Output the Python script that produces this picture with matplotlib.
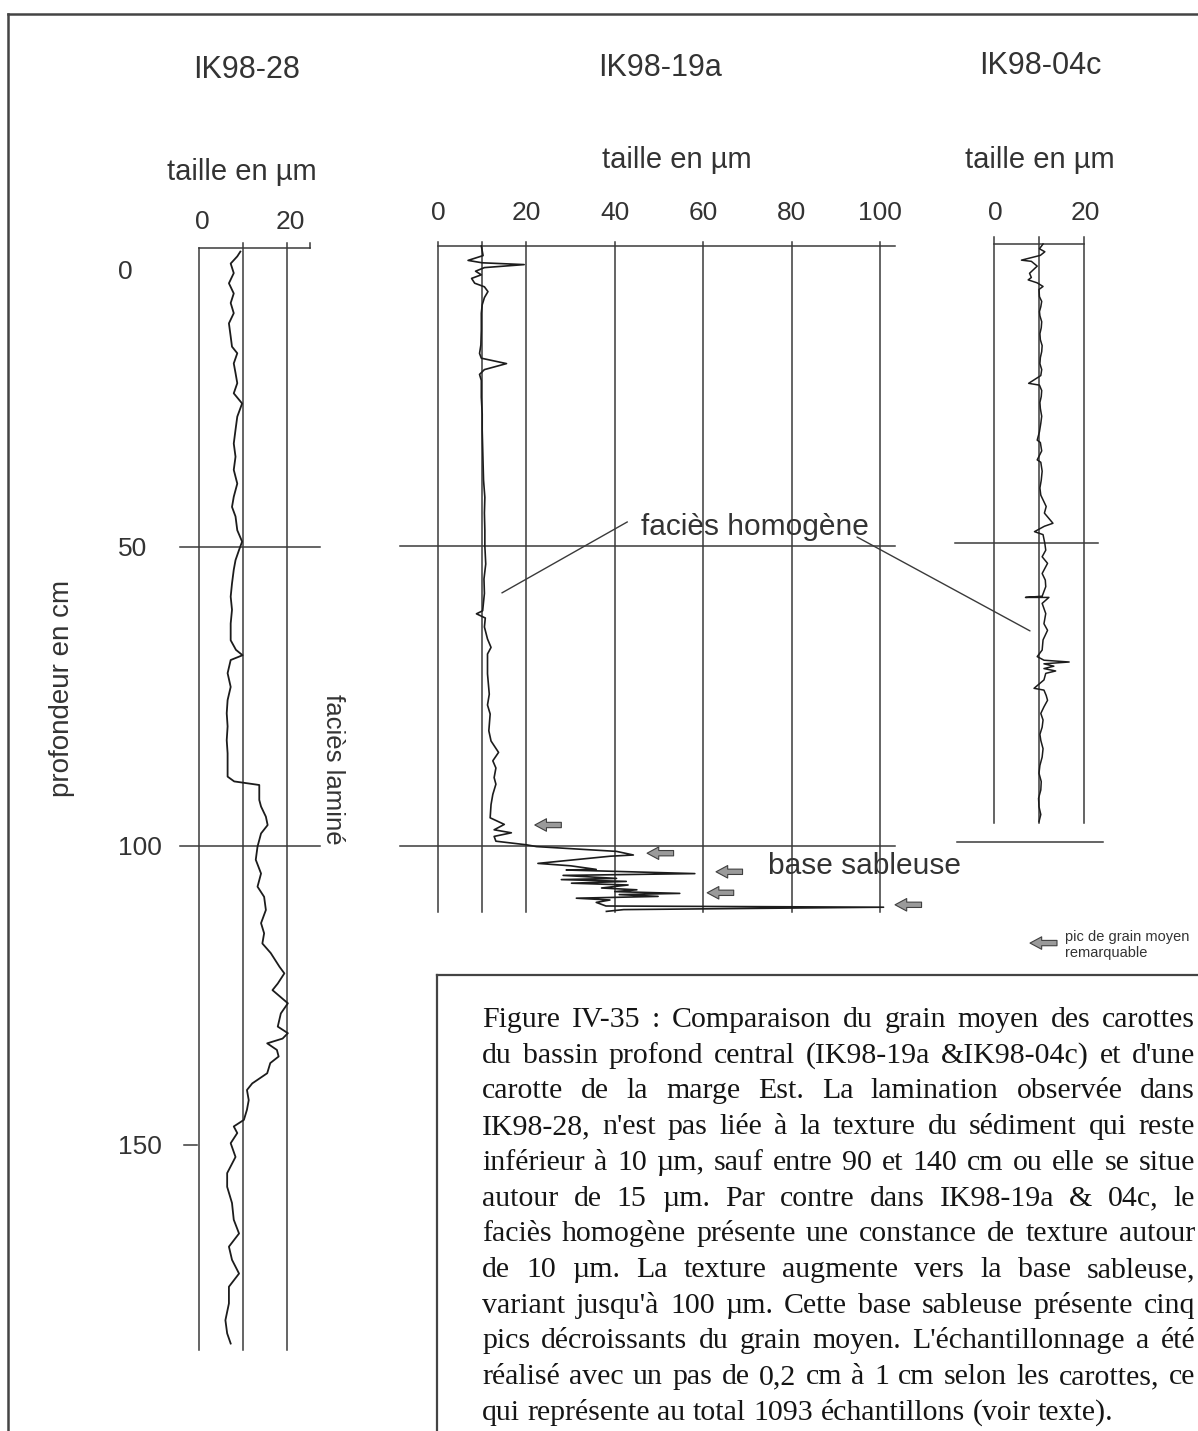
import matplotlib
matplotlib.use("Agg")
import matplotlib.pyplot as plt
from matplotlib.lines import Line2D
from matplotlib.patches import ConnectionPatch

W, H = 1198, 1431

# --- data: depth (cm) / mean grain size (µm) ---
ik28_depth = [0.6, 1.4, 2.6, 4.2, 5.9, 7.6, 9.2, 10.9, 12.6, 14.8, 16.5, 17.6, 19.3, 20.9,
              22.6, 24.3, 26.0, 28.2, 30.4, 32.7, 34.9, 37.1, 39.4, 41.6, 43.3, 44.9, 47.2,
              49.1, 50.5, 52.2, 53.8, 56.1, 58.3, 60.5, 62.8, 65.6, 67.2, 68.1, 68.9, 71.1,
              73.4, 75.6, 77.8, 80.0, 82.3, 84.5, 86.7, 88.4, 89.2, 89.8, 92.3, 93.4, 95.1,
              96.5, 97.9, 100.1, 102.3, 104.6, 106.8, 108.5, 110.7, 112.9, 114.6, 116.3,
              117.9, 120.2, 121.3, 123.0, 124.1, 126.3, 128.0, 130.2, 131.3, 132.2, 133.0,
              134.1, 135.2, 136.3, 138.0, 139.7, 140.8, 142.5, 144.1, 145.8, 146.9, 148.0,
              149.7, 152.0, 154.7, 157.0, 159.7, 162.5, 164.8, 167.0, 169.2, 171.5, 173.7,
              176.5, 179.3, 181.5, 183.2]
ik28_size = [9.4, 8.7, 7.2, 7.9, 6.8, 7.9, 7.2, 7.9, 6.8, 7.2, 7.5, 8.7, 7.9, 8.3,
             8.7, 7.9, 9.8, 8.7, 8.3, 7.9, 8.3, 7.9, 8.7, 7.9, 7.5, 8.3, 8.7,
             9.8, 9.1, 8.3, 7.9, 7.5, 7.2, 7.5, 7.2, 7.2, 8.4, 9.9, 7.2, 6.5,
             7.2, 6.5, 6.3, 6.5, 6.3, 6.5, 6.5, 6.5, 8.0, 13.7, 13.7, 14.1, 15.2,
             15.6, 14.1, 13.3, 12.9, 14.1, 13.3, 14.8, 15.2, 14.1, 14.8, 14.4,
             16.3, 18.3, 19.4, 17.9, 16.7, 20.2, 18.6, 17.9, 20.2, 19.0, 15.5,
             17.7, 18.1, 16.2, 15.5, 12.1, 10.9, 11.3, 10.9, 10.2, 7.9, 8.7,
             7.2, 8.3, 6.4, 6.4, 7.5, 7.9, 9.1, 6.8, 7.5, 9.1, 6.8,
             6.8, 6.0, 6.4, 7.2]

ik19_depth = [0.0, 0.8, 1.6, 2.4, 2.8, 3.1, 3.6, 4.2, 4.8, 5.4, 6.2, 6.8, 7.6, 8.6, 9.8,
              11.2, 14.0, 16.5, 17.9, 18.7, 19.6, 20.6, 21.4, 22.4, 25.2, 28.0, 30.7, 33.5,
              36.3, 39.0, 41.9, 44.5, 47.4, 50.0, 53.0, 55.5, 57.9, 60.8, 61.3, 62.0, 63.5,
              65.5, 66.9, 68.0, 71.3, 74.7, 76.5, 78.0, 80.8, 82.5, 84.4, 85.8, 87.0, 88.6,
              89.7, 91.4, 93.1, 95.3, 96.4, 97.3, 97.8, 98.4, 99.2, 99.8, 100.1, 100.9,
              101.5, 101.7, 102.9, 103.3, 103.9, 104.0, 104.6, 104.9, 105.4, 105.6, 105.9,
              106.2, 106.5, 107.0, 107.3, 107.6, 107.9, 108.1, 108.4, 108.7, 109.0, 109.4,
              110.0, 110.2, 110.6, 110.9]
ik19_size = [9.8, 10.0, 10.2, 6.8, 10.0, 19.5, 10.5, 8.5, 9.8, 7.6, 8.3, 10.5, 11.3, 10.5, 10.0,
             9.8, 9.8, 9.7, 9.4, 9.8, 15.5, 10.5, 9.4, 9.8, 9.8, 10.0, 10.0, 10.1,
             10.2, 10.3, 10.6, 10.5, 10.6, 10.6, 10.8, 10.4, 10.5, 10.1, 8.7, 10.7, 10.5,
             11.2, 12.0, 11.2, 11.2, 11.6, 11.2, 11.8, 11.5, 12.0, 13.7, 12.4, 13.1, 12.7,
             13.1, 12.4, 12.0, 11.8, 15.0, 12.7, 16.6, 12.7, 13.1, 20.0, 22.3, 40.4,
             44.2, 39.0, 22.6, 30.0, 35.8, 29.0, 58.1, 28.3, 40.4, 27.9, 42.6,
             30.2, 43.0, 37.0, 45.0, 40.0, 54.7, 41.0, 49.8, 31.3, 38.9, 35.8,
             38.0, 100.8, 42.0, 38.1]

ik04_depth = [0.0, 0.8, 1.3, 1.9, 2.7, 2.9, 3.7, 4.9, 5.6, 6.0, 6.5, 7.1, 7.6, 8.8, 9.6,
              10.5, 11.3, 12.0, 13.0, 14.0, 15.0, 16.0, 17.0, 18.0, 19.0, 20.0, 21.0, 22.0,
              23.3, 23.6, 24.5, 25.5, 26.5, 27.5, 28.8, 30.0, 31.4, 32.8, 33.2, 34.6, 36.1,
              36.5, 38.0, 39.5, 40.8, 42.0, 43.9, 45.0, 46.7, 47.2, 48.1, 48.6, 50.1, 51.2,
              52.3, 53.4, 55.1, 56.2, 57.3, 58.9, 59.1, 59.1, 60.1, 61.8, 63.5, 64.6, 66.2,
              67.9, 69.0, 69.6, 69.9, 70.2, 70.6, 71.0, 71.4, 71.8, 72.9, 74.3, 74.6, 75.5,
              76.3, 77.4, 78.5, 79.6, 80.8, 82.0, 83.0, 84.4, 85.8, 87.2, 88.5, 89.9, 91.3,
              92.7, 94.1, 95.4, 96.6]
ik04_size = [10.9, 10.1, 11.3, 10.3, 6.1, 8.3, 9.6, 7.9, 8.3, 7.6, 9.6, 10.9, 10.0, 10.1, 10.6,
             10.4, 10.1, 10.2, 10.6, 10.5, 10.2, 10.3, 10.7, 10.6, 10.3, 10.2, 10.6, 10.4,
             7.7, 10.1, 10.6, 10.5, 10.2, 10.3, 10.6, 10.4, 10.1, 9.6, 10.3, 10.6, 9.6,
             10.4, 10.7, 10.5, 10.2, 10.4, 11.6, 11.2, 13.1, 11.2, 9.0, 10.9, 11.3, 11.5,
             10.7, 11.9, 10.7, 11.4, 11.5, 10.7, 7.0, 12.2, 10.7, 11.5, 11.1, 11.9, 10.9,
             10.7, 9.6, 11.1, 16.7, 11.1, 13.3, 11.1, 13.7, 11.5, 11.1, 8.9, 11.1, 11.6,
             11.9, 11.1, 10.4, 10.9, 10.7, 10.2, 10.4, 10.9, 10.7, 10.2, 10.0, 10.5, 10.4,
             9.9, 10.0, 10.4, 10.0]

ik28_grid = [0, 10, 20]
ik19_grid = [0, 10, 20, 40, 60, 80, 100]
ik04_grid = [0, 10, 20]
ik28_ticks = [0, 20]
ik19_ticks = [0, 20, 40, 60, 80, 100]
ik04_ticks = [0, 20]
depth_ticks = [0, 50, 100, 150]

# remarkable mean-grain peaks in IK98-19a (depth cm, arrow tip µm)
peak_depth = [96.5, 101.2, 104.3, 107.8, 109.8]
peak_tip = [21.9, 47.3, 62.9, 60.9, 103.4]

caption = [
    "Figure IV-35 : Comparaison du grain moyen des carottes",
    "du bassin profond central (IK98-19a &IK98-04c) et d'une",
    "carotte de la marge Est. La lamination observée dans",
    "IK98-28, n'est pas liée à la texture du sédiment qui reste",
    "inférieur à 10 µm, sauf entre 90 et 140 cm ou elle se situe",
    "autour de 15 µm. Par contre dans IK98-19a & 04c, le",
    "faciès homogène présente une constance de texture autour",
    "de 10 µm. La texture augmente vers la base sableuse,",
    "variant  jusqu'à 100 µm. Cette base sableuse présente cinq",
    "pics décroissants du grain moyen. L'échantillonnage a été",
    "réalisé avec un pas de 0,2 cm  à 1 cm selon les carottes, ce",
    "qui représente au total 1093 échantillons (voir texte).",
]

SANS = ["Liberation Sans", "DejaVu Sans"]
SERIF = ["Liberation Serif", "DejaVu Serif"]
LC = "#3a3a3a"
CC = "#1c1c1c"
TC = "#333333"

fig = plt.figure(figsize=(W / 100, H / 100), dpi=100)
fig.patch.set_facecolor("white")


def px(x, y):
    return x / W, 1 - y / H


def panel_axes(x0, ppu, d0, ppc):
    # full-figure axes whose data units are µm (x) and cm (y, downward)
    ax = fig.add_axes([0, 0, 1, 1])
    ax.set_xlim(-x0 / ppu, (W - x0) / ppu)
    ax.set_ylim((H - d0) / ppc, -d0 / ppc)
    ax.axis("off")
    ax.patch.set_alpha(0)
    return ax


def fline(x0, y0, x1, y1, lw=1.6, color="#444444"):
    a, b = px(x0, y0)
    c, d = px(x1, y1)
    fig.add_artist(Line2D([a, c], [b, d], color=color, lw=lw))


def peak_arrow(ax, tip, d):
    ax.annotate("", xy=(tip, d), xytext=(tip + 6, d),
                arrowprops=dict(arrowstyle="simple,head_length=0.7,head_width=0.75,tail_width=0.32",
                                fc="#9a9a9a", ec="#404040", lw=0.8, mutation_scale=12,
                                shrinkA=0, shrinkB=0))


# outer frame and caption box
fline(8, 14, W, 14, lw=1.8)
fline(8, 14, 8, H, lw=1.8)
fline(437, 975, W, 975, lw=1.6)
fline(437, 975, 437, H, lw=1.6)

# ---------------- IK98-28 ----------------
ax28 = panel_axes(199, 4.4, 248, 5.98)
for g in ik28_grid:
    ax28.plot([g, g], [0 if g == 0 else -0.8, 184.3], color=LC, lw=1.1)
ax28.plot([0, 25.2], [0, 0], color=LC, lw=1.1)
ax28.plot([25.2, 25.2], [0, -0.9], color=LC, lw=1.1)
for d in [50, 100]:
    ax28.plot([-4.3, 27.5], [d, d], color=LC, lw=1.1)
ax28.plot([-3.3, -0.5], [150, 150], color=LC, lw=1.1)
ax28.plot(ik28_size, ik28_depth, color=CC, lw=1.3)
for v in ik28_ticks:
    ax28.text(v + 0.8, -4.3, str(v), ha="center", va="center", fontsize=19, family=SANS, color=TC)
for d in depth_ticks:
    yy = 4.0 if d == 0 else d + 0.3
    ax28.text(-18.4, yy, str(d), ha="left", va="center", fontsize=19, family=SANS, color=TC)

# ---------------- IK98-19a ----------------
ax19 = panel_axes(438, 4.42, 246, 6.0)
for g in ik19_grid:
    ax19.plot([g, g], [-0.7, 111.0], color=LC, lw=1.1)
ax19.plot([0, 103.4], [0, 0], color=LC, lw=1.1)
for d in [50, 100]:
    ax19.plot([-8.6, 103.4], [d, d], color=LC, lw=1.1)
ax19.plot(ik19_size, ik19_depth, color=CC, lw=1.2)
for v in ik19_ticks:
    ax19.text(v, -5.5, str(v), ha="center", va="center", fontsize=19, family=SANS, color=TC)
for d, tip in zip(peak_depth, peak_tip):
    peak_arrow(ax19, tip, d)

# ---------------- IK98-04c ----------------
ax04 = panel_axes(994, 4.5, 244, 5.98)
for g in ik04_grid:
    ax04.plot([g, g], [-1.2, 96.8], color=LC, lw=1.1)
ax04.plot([0, 20], [0, 0], color=LC, lw=1.1)
ax04.plot([-8.7, 23.1], [50, 50], color=LC, lw=1.1)
ax04.plot([-8.2, 24.2], [100, 100], color=LC, lw=1.1)
ax04.plot(ik04_size, ik04_depth, color=CC, lw=1.1)
for v in ik04_ticks:
    ax04.text(v + 0.2, -5.2, str(v), ha="center", va="center", fontsize=19, family=SANS, color=TC)
peak_arrow(ax04, 8.0, 116.9)

# titles and axis captions
for label, x, y in [("IK98-28", 247, 70), ("IK98-19a", 660, 68), ("IK98-04c", 1040, 66)]:
    fig.text(*px(x, y), label, ha="center", va="center", fontsize=22, family=SANS, color=TC)
for x, y in [(242, 172), (677, 160), (1040, 160)]:
    fig.text(*px(x, y), "taille en µm", ha="center", va="center", fontsize=21, family=SANS, color=TC)
fig.text(*px(62, 688), "profondeur en cm", rotation=90, ha="center", va="center",
         fontsize=20, family=SANS, color=TC)
fig.text(*px(333, 769), "faciès laminé", rotation=270, ha="center", va="center",
         fontsize=18.5, family=SANS, color=TC)

# facies annotations
ax19.text(71.7, 46.8, "faciès homogène", ha="center", va="center", fontsize=21.5, family=SANS, color=TC)
ax19.plot([42.8, 14.5], [46.0, 57.8], color=LC, lw=1.0)
fig.add_artist(ConnectionPatch(xyA=(94.8, 48.5), coordsA=ax19.transData,
                               xyB=(8.0, 64.7), coordsB=ax04.transData, color=LC, lw=1.0))
ax19.text(96.6, 103.3, "base sableuse", ha="center", va="center", fontsize=21.5, family=SANS, color=TC)

fig.text(*px(1065, 937), "pic de grain moyen", ha="left", va="center", fontsize=10.5, family=SANS, color=TC)
fig.text(*px(1065, 953), "remarquable", ha="left", va="center", fontsize=10.5, family=SANS, color=TC)

# justified caption
renderer = fig.canvas.get_renderer()
cap_x0, cap_x1 = 482, 1195
for i, line in enumerate(caption):
    yb = 1027 + 35.7 * i
    words = line.split()
    arts = [fig.text(0, 0, w, fontsize=21.5, family=SERIF, va="baseline", color="#151515") for w in words]
    widths = [a.get_window_extent(renderer).width for a in arts]
    if i == len(caption) - 1:
        gap = 7.5
    else:
        gap = (cap_x1 - cap_x0 - sum(widths)) / (len(words) - 1)
    x = cap_x0
    for a, w in zip(arts, widths):
        a.set_position(px(x, yb))
        x += w + gap

fig.savefig("out.png", dpi=100)
